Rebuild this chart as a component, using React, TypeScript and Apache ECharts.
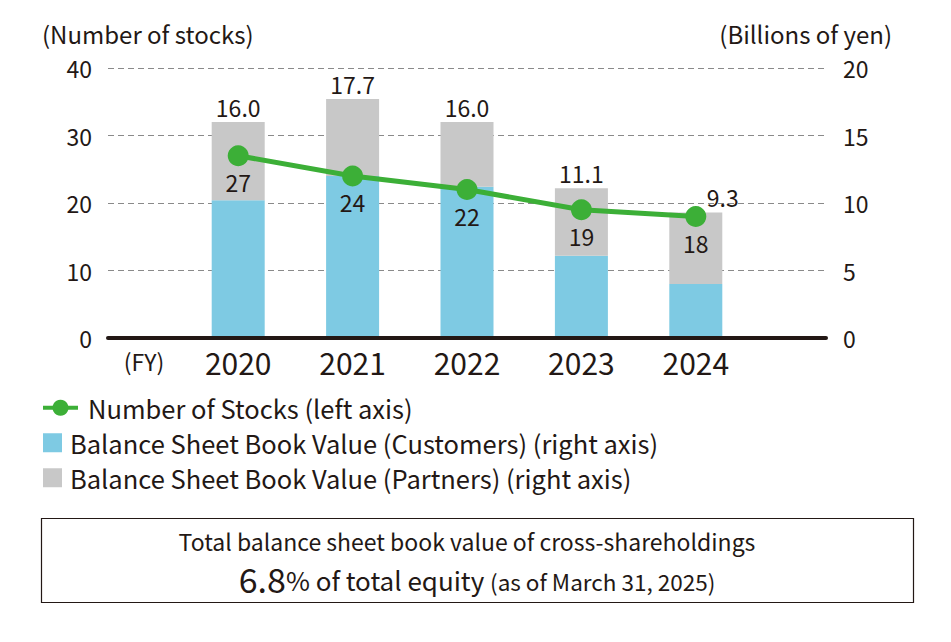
import React, { useEffect, useRef } from "react";
import * as echarts from "echarts";

const years = ["2020", "2021", "2022", "2023", "2024"];
const stocks = [27, 24, 22, 19, 18];
const customers = [10.2, 12.0, 11.2, 6.1, 4.0];
const partners = [5.8, 5.7, 4.8, 5.0, 5.3];
const totals = ["16.0", "17.7", "16.0", "11.1", "9.3"];

const lineName = "Number of Stocks (left axis)";
const custName = "Balance Sheet Book Value (Customers) (right axis)";
const partName = "Balance Sheet Book Value (Partners) (right axis)";

const FONT = '"Noto Sans CJK JP", "Noto Sans", sans-serif';
const INK = "#231815";
const BLUE = "#7ecae3";
const GRAY = "#c8c8c8";
const GREEN = "#3caf37";

export default function App() {
  const ref = useRef<HTMLDivElement>(null);
  useEffect(() => {
    if (!ref.current) return;
    const chart = echarts.init(ref.current, null, { renderer: "svg" });
    const legendText = { fontSize: 25.5, color: INK, fontFamily: FONT, padding: [0, 0, 0, 3] };
    chart.setOption({
      animation: false,
      textStyle: { fontFamily: FONT, color: INK },
      grid: [
        { left: 108, top: 68, width: 718, height: 270 },
        { left: 181, top: 68, width: 572, height: 270 },
      ],
      xAxis: [
        {
          gridIndex: 0, type: "value", min: 0, max: 1, z: 5,
          axisLine: { show: true, onZero: false, lineStyle: { color: INK, width: 4 } },
          axisTick: { show: false }, axisLabel: { show: false }, splitLine: { show: false },
        },
        {
          gridIndex: 1, type: "category", data: years,
          axisLine: { show: false }, axisTick: { show: false },
          axisLabel: { fontSize: 30, color: INK, fontFamily: FONT, margin: 9 },
        },
      ],
      yAxis: [
        {
          gridIndex: 0, type: "value", min: 0, max: 40, interval: 10, position: "left",
          axisLine: { show: false }, axisTick: { show: false },
          axisLabel: { fontSize: 23, color: INK, fontFamily: FONT, margin: 16 },
          splitLine: { lineStyle: { color: "#8a8a8a", width: 1, type: [6, 4] } },
        },
        {
          gridIndex: 0, type: "value", min: 0, max: 20, interval: 5, position: "right",
          axisLine: { show: false }, axisTick: { show: false },
          axisLabel: { fontSize: 23, color: INK, fontFamily: FONT, margin: 17 },
          splitLine: { show: false },
        },
        { gridIndex: 1, type: "value", min: 0, max: 40, show: false, splitLine: { show: false } },
        { gridIndex: 1, type: "value", min: 0, max: 20, show: false, splitLine: { show: false } },
      ],
      legend: [
        {
          data: [lineName], left: 36, top: 390, orient: "vertical", selectedMode: false,
          itemWidth: 35, itemHeight: 20, textStyle: { ...legendText, padding: [0, 0, 0, 5] },
          lineStyle: { width: 4 },
        },
        {
          data: [{ name: custName, icon: "rect" }], left: 38, top: 425, selectedMode: false,
          itemWidth: 19, itemHeight: 19, textStyle: legendText,
        },
        {
          data: [{ name: partName, icon: "rect" }], left: 38, top: 460, selectedMode: false,
          itemWidth: 19, itemHeight: 19, textStyle: legendText,
        },
      ],
      series: [
        {
          name: custName, type: "bar", xAxisIndex: 1, yAxisIndex: 3, stack: "bv",
          barWidth: 53, itemStyle: { color: BLUE }, data: customers,
        },
        {
          name: partName, type: "bar", xAxisIndex: 1, yAxisIndex: 3, stack: "bv",
          barWidth: 53, itemStyle: { color: GRAY },
          data: partners.map((v, i) =>
            i === partners.length - 1 ? { value: v, label: { offset: [27, 0] } } : v
          ),
          label: {
            show: true, position: "top", distance: 4, fontSize: 23, color: INK, fontFamily: FONT,
            formatter: (p: any) => totals[p.dataIndex],
          },
        },
        {
          name: lineName, type: "line", xAxisIndex: 1, yAxisIndex: 2, z: 10,
          data: stocks, symbol: "circle", symbolSize: 21,
          itemStyle: { color: GREEN }, lineStyle: { color: GREEN, width: 5 },
          label: { show: true, position: "bottom", distance: 4, fontSize: 23, color: INK, fontFamily: FONT },
        },
      ],
      graphic: [
        {
          type: "text", left: 42, top: 21,
          style: { text: "(Number of stocks)", fontSize: 24, fill: INK, fontFamily: FONT },
        },
        {
          type: "text", right: 59, top: 21,
          style: { text: "(Billions of yen)", fontSize: 24, fill: INK, fontFamily: FONT },
        },
        {
          type: "text", x: 144, y: 361,
          style: { text: "(FY)", fontSize: 23, fill: INK, fontFamily: FONT, align: "center", verticalAlign: "middle" },
        },
        {
          type: "rect", shape: { x: 41.5, y: 518.5, width: 872, height: 84 },
          style: { fill: "none", stroke: INK, lineWidth: 1.2 },
        },
        {
          type: "text", x: 467, y: 560,
          style: {
            text:
              "{t|Total balance sheet book value of cross-shareholdings}\n" +
              "{a|6.8}{b|% of total equity }{c|(as of March 31, 2025)}",
            fill: INK, fontFamily: FONT, align: "center", verticalAlign: "middle",
            rich: {
              t: { fontSize: 23, lineHeight: 36, fontFamily: FONT, fill: INK },
              a: { fontSize: 34, lineHeight: 38, fontFamily: FONT, fill: INK, padding: [0, 0, 0, 20] },
              b: { fontSize: 26, lineHeight: 26, fontFamily: FONT, fill: INK, padding: [3, 0, 0, 0] },
              c: { fontSize: 22.5, lineHeight: 22, fontFamily: FONT, fill: INK, padding: [6, 0, 0, 0] },
            },
          },
        },
      ],
    });
    return () => chart.dispose();
  }, []);
  return (
    <div
      ref={ref}
      style={{ position: "fixed", left: 0, top: 0, width: 951, height: 642, background: "#fff" }}
    />
  );
}
